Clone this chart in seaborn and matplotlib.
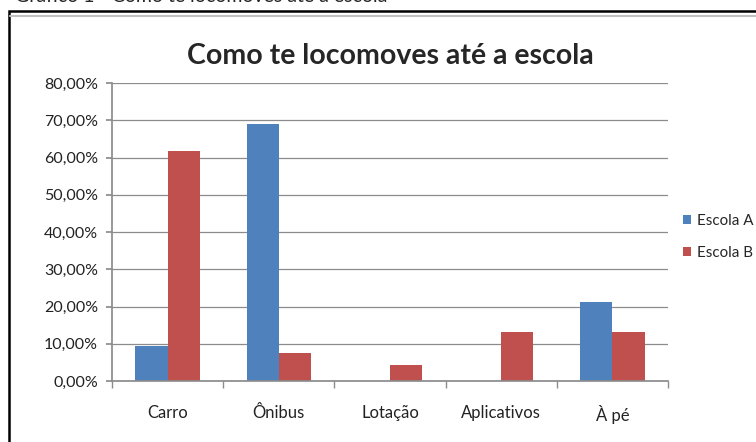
import pandas as pd
import seaborn as sns
import matplotlib.pyplot as plt
from matplotlib.patches import Rectangle
from matplotlib.ticker import FuncFormatter

categorias = ["Carro", "Ônibus", "Lotação", "Aplicativos", "À pé"]
escola_a = [9.5, 68.9, 0.0, 0.0, 21.3]
escola_b = [61.8, 7.4, 4.2, 13.2, 13.2]
escolas = ["Escola A", "Escola B"]

dados = pd.DataFrame({
    "Meio": categorias * 2,
    "Percentual": escola_a + escola_b,
    "Escola": [escolas[0]] * 5 + [escolas[1]] * 5,
})

sns.set_theme(style="white")
plt.rcParams['font.family'] = ['Lato', 'DejaVu Sans']

fig = plt.figure(figsize=(7.56, 4.42), dpi=100)
ax = fig.add_axes([112/756, 1 - 381/442, (668-112)/756, (381-83)/442])

sns.barplot(data=dados, x="Meio", y="Percentual", hue="Escola",
            palette=["#4F81BD", "#C0504D"], width=0.58, ax=ax,
            saturation=1, edgecolor="none")

ax.set_ylim(0, 80)
ax.set_xlim(-0.5, 4.5)
ax.set_yticks(range(0, 81, 10))
ax.yaxis.set_major_formatter(FuncFormatter(lambda v, p: f"{v:.2f}%".replace(".", ",")))
ax.yaxis.grid(True, color="#8c8c8c", linewidth=0.9)
ax.set_axisbelow(True)
ax.set_xlabel("")
ax.set_ylabel("")
for s in ["top", "right"]:
    ax.spines[s].set_visible(False)
ax.spines["left"].set_color("#8c8c8c")
ax.spines["bottom"].set_color("#8c8c8c")
ax.tick_params(axis="y", which="major", left=True, length=4, color="#8c8c8c",
               labelsize=11.5, pad=6, labelcolor="#222222")
ax.tick_params(axis="x", which="major", bottom=False, labelsize=12, pad=11,
               labelcolor="#222222")
ax.set_xticks([i - 0.5 for i in range(6)], minor=True)
ax.tick_params(axis="x", which="minor", bottom=True, length=5, color="#8c8c8c")

ax.set_title("Como te locomoves até a escola", fontsize=20.5, fontweight="bold",
             pad=14, x=0.5)

ax.legend(loc="center left", bbox_to_anchor=((683 - 112) / 556, 0.483), frameon=False,
          fontsize=10.9, handlelength=0.55, handleheight=0.55, handletextpad=0.4,
          labelspacing=1.2, borderpad=0, borderaxespad=0)

# moldura externa
fig.patches.append(Rectangle((9/756, -0.1), 1.2, 1 - 11/442 + 0.1,
                             transform=fig.transFigure, fill=False,
                             edgecolor="black", linewidth=1.8))
fig.lines.append(plt.Line2D([10/756, 1], [1 - 16/442] * 2, transform=fig.transFigure,
                            color="#c0c0c0", linewidth=1.5))

fig.text(15/756, 1 - 1.5/442, "Gráfico 1 - Como te locomoves até a escola", fontsize=14,
         va="baseline", ha="left")

plt.savefig("out.png", dpi=100)
